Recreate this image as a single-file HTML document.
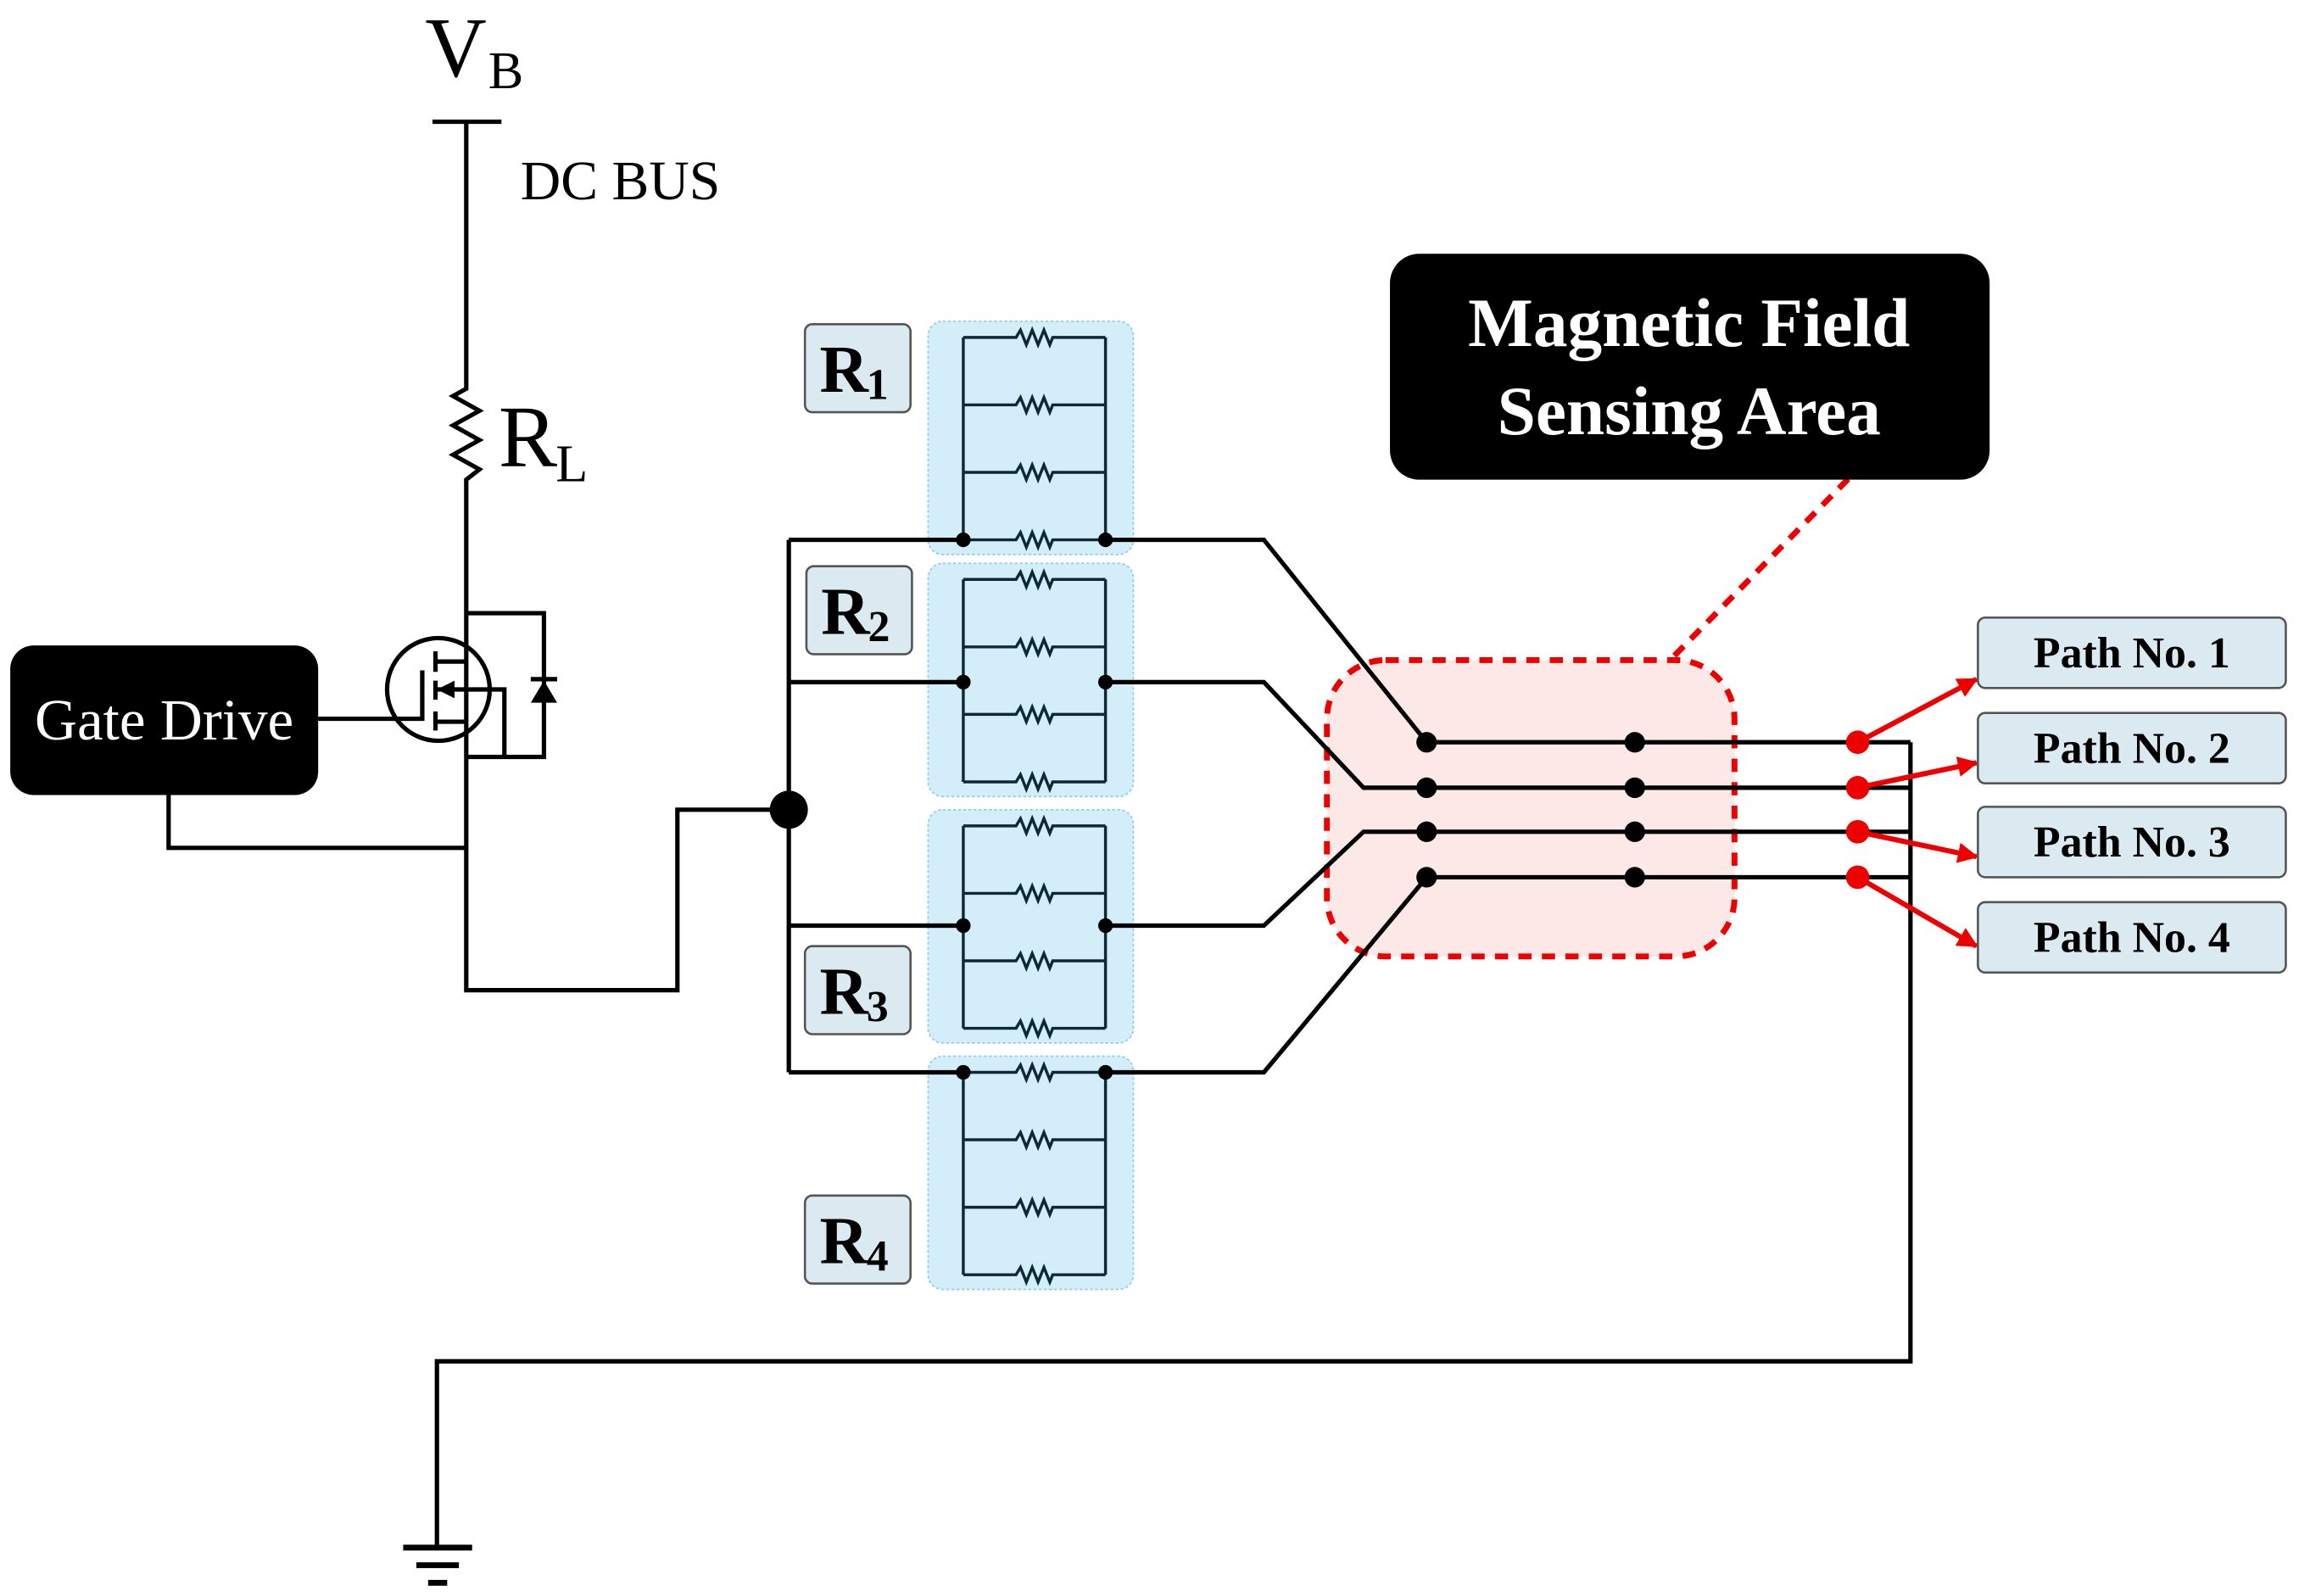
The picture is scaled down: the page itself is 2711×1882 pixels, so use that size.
<!DOCTYPE html>
<html><head><meta charset="utf-8"><style>
html,body{margin:0;padding:0;background:#fff;}
svg{display:block;}
text{font-family:"Liberation Serif",serif;}
</style></head><body>
<svg width="2711" height="1882" viewBox="0 0 1568 1088" preserveAspectRatio="none" xmlns="http://www.w3.org/2000/svg">
<defs>
<g id="zz"><polyline points="0,0 36,0 39,-5 43,5 47,-5 51,5 55,-5 59,5 61,0 97,0" fill="none" stroke="#0d2a33" stroke-width="2"/></g>
<g id="rb">
<rect x="633" y="0" width="140" height="159" rx="10" fill="#d3eef9" stroke="#8fd0e6" stroke-width="1" stroke-dasharray="2,1.5"/>
<use href="#zz" x="657" y="11"/><use href="#zz" x="657" y="57"/><use href="#zz" x="657" y="103"/><use href="#zz" x="657" y="149"/>
<line x1="657" y1="11" x2="657" y2="149" stroke="#0d2a33" stroke-width="2"/>
<line x1="754" y1="11" x2="754" y2="149" stroke="#0d2a33" stroke-width="2"/>
</g>
<marker id="ah2" viewBox="0 0 10 10" markerWidth="17" markerHeight="14" refX="9" refY="5" orient="auto" markerUnits="userSpaceOnUse"><path d="M0,0 L10,5 L0,10 z" fill="#e00"/></marker>
</defs>

<!-- VB -->
<text x="290" y="52" font-size="58">V</text>
<text x="333" y="60" font-size="36">B</text>
<line x1="295" y1="83" x2="342" y2="83" stroke="#000" stroke-width="3"/>
<text x="355" y="136" font-size="38">DC BUS</text>
<polyline points="318,83 318,265 309,270 327,280 309,290 327,300 309,310 327,320 318,327 318,675 462,675 462,552 538,552" fill="none" stroke="#000" stroke-width="3"/>
<text x="340" y="318" font-size="60">R</text>
<text x="379" y="328" font-size="36">L</text>

<!-- MOSFET -->
<circle cx="299" cy="470" r="35" fill="none" stroke="#000" stroke-width="3"/>
<polyline points="318,418 371,418 371,516 318,516" fill="none" stroke="#000" stroke-width="3"/>
<polyline points="297,451 318,451" fill="none" stroke="#000" stroke-width="3"/>
<polyline points="297,492 318,492" fill="none" stroke="#000" stroke-width="3"/>
<polyline points="297,470 344,470 344,516" fill="none" stroke="#000" stroke-width="3"/>
<polygon points="298,470 310,464 310,476" fill="#000"/>
<line x1="297" y1="444" x2="297" y2="458" stroke="#000" stroke-width="3"/>
<line x1="297" y1="464" x2="297" y2="477" stroke="#000" stroke-width="3"/>
<line x1="297" y1="485" x2="297" y2="498" stroke="#000" stroke-width="3"/>
<polyline points="217,490 288,490 288,457" fill="none" stroke="#000" stroke-width="3"/>
<polygon points="362,479 380,479 371,464" fill="#000"/>
<line x1="362" y1="463" x2="380" y2="463" stroke="#000" stroke-width="3"/>

<!-- Gate drive -->
<polyline points="115,542 115,578 318,578" fill="none" stroke="#000" stroke-width="3"/>
<rect x="7" y="440" width="210" height="102" rx="16" fill="#000"/>
<text x="112" y="504" font-size="40" fill="#fff" text-anchor="middle">Gate Drive</text>

<!-- bus -->
<polyline points="538,368 538,731" fill="none" stroke="#000" stroke-width="3"/>
<circle cx="538" cy="552" r="13" fill="#000"/>

<!-- resistor banks -->
<use href="#rb" y="219"/>
<use href="#rb" y="384"/>
<use href="#rb" y="552"/>
<use href="#rb" y="720"/>

<!-- R labels -->
<g font-weight="bold">
<rect x="549" y="221" width="72" height="60" rx="5" fill="#dbeaf0" stroke="#555" stroke-width="1.5"/>
<text x="559" y="267" font-size="46">R</text><text x="591" y="272" font-size="30">1</text>
<rect x="550" y="386" width="72" height="60" rx="5" fill="#dbeaf0" stroke="#555" stroke-width="1.5"/>
<text x="560" y="432" font-size="46">R</text><text x="592" y="437" font-size="30">2</text>
<rect x="549" y="645" width="72" height="60" rx="5" fill="#dbeaf0" stroke="#555" stroke-width="1.5"/>
<text x="559" y="691" font-size="46">R</text><text x="591" y="696" font-size="30">3</text>
<rect x="549" y="815" width="72" height="60" rx="5" fill="#dbeaf0" stroke="#555" stroke-width="1.5"/>
<text x="559" y="861" font-size="46">R</text><text x="591" y="866" font-size="30">4</text>
</g>

<!-- sensing area -->
<rect x="905" y="450" width="278" height="202" rx="40" fill="#fde8e8" stroke="#e00" stroke-width="4" stroke-dasharray="9,7"/>
<line x1="1142" y1="447" x2="1262" y2="325" stroke="#e00" stroke-width="4" stroke-dasharray="9,7"/>

<!-- wires -->
<g fill="none" stroke="#000" stroke-width="3">
<polyline points="538,368 657,368"/><polyline points="538,465 657,465"/><polyline points="538,631 657,631"/><polyline points="538,731 657,731"/>
<polyline points="754,368 862,368 973,506 1303,506"/>
<polyline points="754,465 862,465 930,537 1303,537"/>
<polyline points="754,631 862,631 930,567 1303,567"/>
<polyline points="754,731 862,731 973,598 1303,598"/>
<polyline points="1303,506 1303,928 298,928 298,1055"/>
</g>
<g stroke="#000" stroke-width="4">
<line x1="275" y1="1055" x2="322" y2="1055"/>
<line x1="284" y1="1067" x2="313" y2="1067"/>
<line x1="292" y1="1079" x2="305" y2="1079"/>
</g>
<g fill="#000">
<circle cx="657" cy="368" r="5"/><circle cx="754" cy="368" r="5"/>
<circle cx="657" cy="465" r="5"/><circle cx="754" cy="465" r="5"/>
<circle cx="657" cy="631" r="5"/><circle cx="754" cy="631" r="5"/>
<circle cx="657" cy="731" r="5"/><circle cx="754" cy="731" r="5"/>
<circle cx="973" cy="506" r="7"/><circle cx="1115" cy="506" r="7"/>
<circle cx="973" cy="537" r="7"/><circle cx="1115" cy="537" r="7"/>
<circle cx="973" cy="567" r="7"/><circle cx="1115" cy="567" r="7"/>
<circle cx="973" cy="598" r="7"/><circle cx="1115" cy="598" r="7"/>
</g>
<g fill="#e00">
<circle cx="1267" cy="506" r="8"/><circle cx="1267" cy="537" r="8"/>
<circle cx="1267" cy="567" r="8"/><circle cx="1267" cy="598" r="8"/>
</g>
<g stroke="#e00" stroke-width="3.5" marker-end="url(#ah2)">
<line x1="1267" y1="506" x2="1348" y2="463"/>
<line x1="1267" y1="537" x2="1348" y2="520"/>
<line x1="1267" y1="567" x2="1348" y2="584"/>
<line x1="1267" y1="598" x2="1348" y2="645"/>
</g>

<!-- Magnetic field box -->
<rect x="948" y="173" width="409" height="154" rx="20" fill="#000"/>
<text x="1152" y="236" font-size="47" font-weight="bold" fill="#fff" text-anchor="middle">Magnetic Field</text>
<text x="1152" y="296" font-size="47" font-weight="bold" fill="#fff" text-anchor="middle">Sensing Area</text>

<!-- Path boxes -->
<g font-weight="bold" font-size="30" text-anchor="middle">
<rect x="1349" y="421" width="210" height="48" rx="5" fill="#dbeaf0" stroke="#555" stroke-width="1.5"/>
<text x="1454" y="455">Path No. 1</text>
<rect x="1349" y="486" width="210" height="48" rx="5" fill="#dbeaf0" stroke="#555" stroke-width="1.5"/>
<text x="1454" y="520">Path No. 2</text>
<rect x="1349" y="550" width="210" height="48" rx="5" fill="#dbeaf0" stroke="#555" stroke-width="1.5"/>
<text x="1454" y="584">Path No. 3</text>
<rect x="1349" y="615" width="210" height="48" rx="5" fill="#dbeaf0" stroke="#555" stroke-width="1.5"/>
<text x="1454" y="649">Path No. 4</text>
</g>
</svg>
</body></html>
